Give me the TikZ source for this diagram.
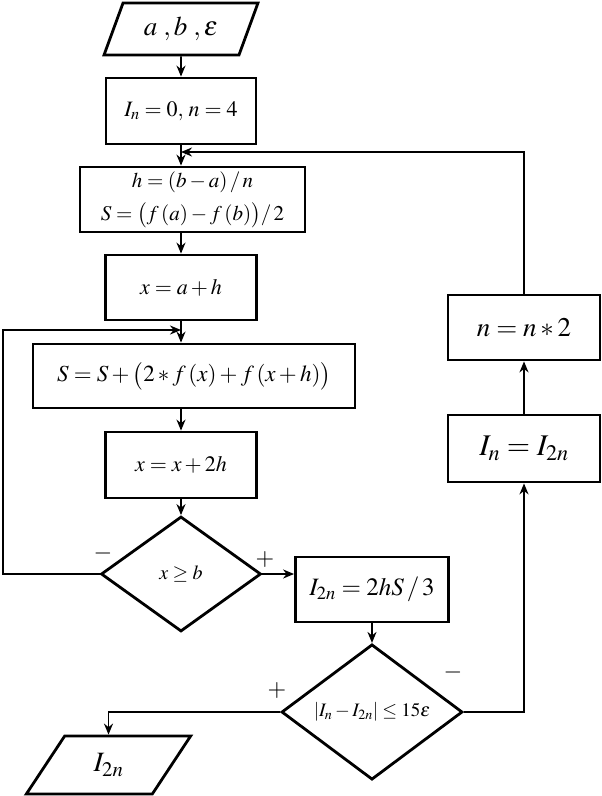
\documentclass[tikz,border=0pt]{standalone}
\usepackage{amsmath}
\usepackage{amssymb}
\usepackage{mathptmx}
\usetikzlibrary{shapes, arrows, arrows.meta, positioning}

\begin{document}
\begin{tikzpicture}[
        x=1pt, y=-1pt,
        block/.style={rectangle, draw, line width=2.8pt, fill=white, align=center, inner sep=0pt, minimum height=65},
        decision/.style={diamond, draw, line width=2.8pt, fill=white, align=center, inner sep=0pt},
        io/.style={trapezium, trapezium stretches=true, draw, line width=2.8pt, fill=white, align=center, inner sep=0pt},
        sign/.style={inner sep=0pt, font=\fontsize{24}{26}\selectfont},
        arrow/.style={line width=1.8pt,->,>={Stealth[length=11pt,width=9pt]}}
    ]
    \useasboundingbox (0,0) rectangle (602,796);

    % Input data
    \node [io, trapezium left angle=63, trapezium right angle=117, minimum width=155, minimum height=52, font=\fontsize{27}{30}\selectfont] (input) at (181,29) {$a\;,b\;,\varepsilon$};

    % Initial values
    \node [block, minimum width=150, minimum height=66, font=\fontsize{22}{24}\selectfont] (init) at (181,111) {$I_n=0,\,n=4$};

    % Step and first sum
    \node [block, minimum width=225, font=\fontsize{21}{28}\selectfont] (step) at (192.5,199.5) {$h=(b-a)\,/\,n$\\[5pt] $S=\bigl(f\,(a)-f\,(b)\bigr)/\,2$};

    \node [block, minimum width=151, font=\fontsize{22}{24}\selectfont] (xstart) at (181,287.5) {$x=a+h$};

    % Loop body
    \node [block, minimum width=322, minimum height=64, font=\fontsize{23}{26}\selectfont] (sum) at (194,376) {$S=S+\bigl(2*f\,(x)+f\,(x+h)\bigr)$};

    \node [block, minimum width=151, minimum height=66, font=\fontsize{22}{24}\selectfont] (xnext) at (181,465) {$x=x+2h$};

    \node [decision, minimum width=160, minimum height=115, font=\fontsize{20}{22}\selectfont] (endx) at (181,574) {$x\geq b$};

    % Result and check
    \node [block, minimum width=153, font=\fontsize{25}{28}\selectfont] (result) at (372,589.5) {$I_{2n}=2hS\,/\,3$};

    \node [decision, minimum width=181, minimum height=130, font=\fontsize{19}{20}\selectfont] (check) at (372,712) {$\left|I_n-I_{2n}\right|\leq 15\varepsilon$};

    % Output
    \node [io, trapezium left angle=60, trapezium right angle=120, minimum width=165, minimum height=58, font=\fontsize{28}{30}\selectfont] (output) at (108.5,765) {$I_{2n}$};

    % Doubling branch
    \node [block, minimum width=152, minimum height=67, font=\fontsize{30}{32}\selectfont] (swap) at (524,448.5) {$I_n=I_{2n}$};

    \node [block, minimum width=152, font=\fontsize{27}{30}\selectfont] (double) at (524,327.5) {$n=n*2$};

    % Joints on the main line
    \coordinate (back) at (181,152);
    \coordinate (loopin) at (181,330);

    % Connecting Lines
    \draw [arrow] (input) -- (init);
    \draw [arrow] (init) -- (init |- step.north);
    \draw [arrow] (xstart |- step.south) -- (xstart);
    \draw [arrow] (xstart) -- (xstart |- sum.north);
    \draw [arrow] (xnext |- sum.south) -- (xnext);
    \draw [arrow] (xnext) -- (endx);

    % Loop back
    \draw [arrow] (endx.west) -- ++(-97,0) |- (loopin);
    \draw [arrow] (endx.east) -- (endx.east -| result.west);
    \draw [arrow] (result) -- (check);

    % Exit and repeat
    \draw [arrow] (check.west) -| (output.north);
    \draw [arrow] (check.east) -| (swap.south);
    \draw [arrow] (swap) -- (double);
    \draw [arrow] (double.north) |- (back);

    % Branch signs
    \node [sign] (minus1) at (103,553) {$-$};
    \node [sign] (plus1) at (265,559) {$+$};
    \node [sign] (plus2) at (277,690) {$+$};
    \node [sign] (minus2) at (453,672) {$-$};

    \end{tikzpicture}
\end{document}
